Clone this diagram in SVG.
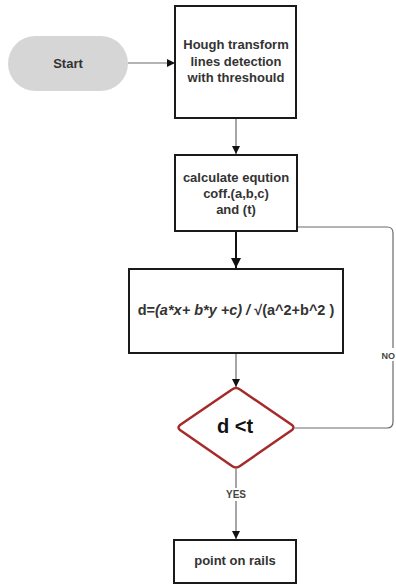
<svg xmlns="http://www.w3.org/2000/svg" width="396" height="585" viewBox="0 0 396 585">
<style>
.box{fill:#fff;stroke:#1a1a1a;stroke-width:2}
.t{font-family:"Liberation Sans",Arial,sans-serif;font-weight:bold;font-size:13px;fill:#333;text-anchor:middle}
.c{fill:none;stroke:#6a6a6a;stroke-width:1.2}
.lbl{font-family:"Liberation Sans",Arial,sans-serif;font-weight:bold;font-size:10px;fill:#444;text-anchor:middle}
</style>
<defs>
<marker id="ah" viewBox="0 0 10 10" refX="10" refY="5" markerWidth="8" markerHeight="8" markerUnits="userSpaceOnUse" orient="auto">
<path d="M0,0 L10,5 L0,10 z" fill="#111"/>
</marker>
<marker id="ah2" viewBox="0 0 10 10" refX="10" refY="5" markerWidth="10" markerHeight="10" markerUnits="userSpaceOnUse" orient="auto">
<path d="M0,0 L10,5 L0,10 z" fill="#111"/>
</marker>
</defs>
<rect width="396" height="585" fill="#fff"/>
<g id="connectors">
<line class="c" x1="128" y1="63" x2="175" y2="63" stroke="#222" marker-end="url(#ah)"/>
<line class="c" x1="236" y1="119" x2="236" y2="154" marker-end="url(#ah)"/>
<line x1="236" y1="232" x2="236" y2="268" stroke="#111" stroke-width="2" marker-end="url(#ah2)"/>
<line class="c" x1="236" y1="354" x2="236" y2="387" marker-end="url(#ah)"/>
<line class="c" x1="236" y1="469" x2="236" y2="539" marker-end="url(#ah)"/>
<path class="c" d="M297,227 L387,227 Q393,227 393,233 L393,422 Q393,428 387,428 L295,428"/>
<rect x="222" y="488" width="28" height="13" fill="#fff"/>
<text class="lbl" x="236" y="498">YES</text>
<rect x="381" y="348" width="15" height="13" fill="#fff"/>
<text class="lbl" x="395" y="358.5" style="text-anchor:end;font-size:9px">NO</text>
</g>
<g id="start">
<rect x="8" y="36" width="120" height="55" rx="27.5" fill="#d6d6d6"/>
<text class="t" x="68" y="67.5">Start</text>
</g>
<g id="hough">
<rect class="box" x="175" y="6" width="121" height="112"/>
<text class="t" x="236" y="49">Hough transform</text>
<text class="t" x="236" y="66">lines detection</text>
<text class="t" x="236" y="82">with threshould</text>
</g>
<g id="calc">
<rect class="box" x="175" y="155" width="122" height="76"/>
<text class="t" x="236" y="182">calculate eqution</text>
<text class="t" x="236" y="198">coff.(a,b,c)</text>
<text class="t" x="236" y="214">and (t)</text>
</g>
<g id="formula">
<rect class="box" x="129" y="269" width="214" height="84"/>
<text class="t" x="236" y="315" style="font-size:14.5px">d=<tspan font-style="italic">(a*x+ b*y +c) / </tspan>√(a^2+b^2 )</text>
</g>
<g id="decision">
<path d="M236,388 Q238,388 240,389.5 L292,425 Q295,427.5 292,430 L240,466 Q236,469 232,466 L180,430 Q177,427.5 180,425 L232,389.5 Q234,388 236,388 z" fill="#fff" stroke="#a52a2a" stroke-width="2.5" stroke-linejoin="round"/>
<text x="235" y="433" font-family="'Liberation Sans',Arial,sans-serif" font-weight="bold" font-size="20" fill="#111" text-anchor="middle">d &lt;t</text>
</g>
<g id="point">
<rect class="box" x="174" y="540" width="122" height="43"/>
<text class="t" x="235" y="565">point on rails</text>
</g>
</svg>
